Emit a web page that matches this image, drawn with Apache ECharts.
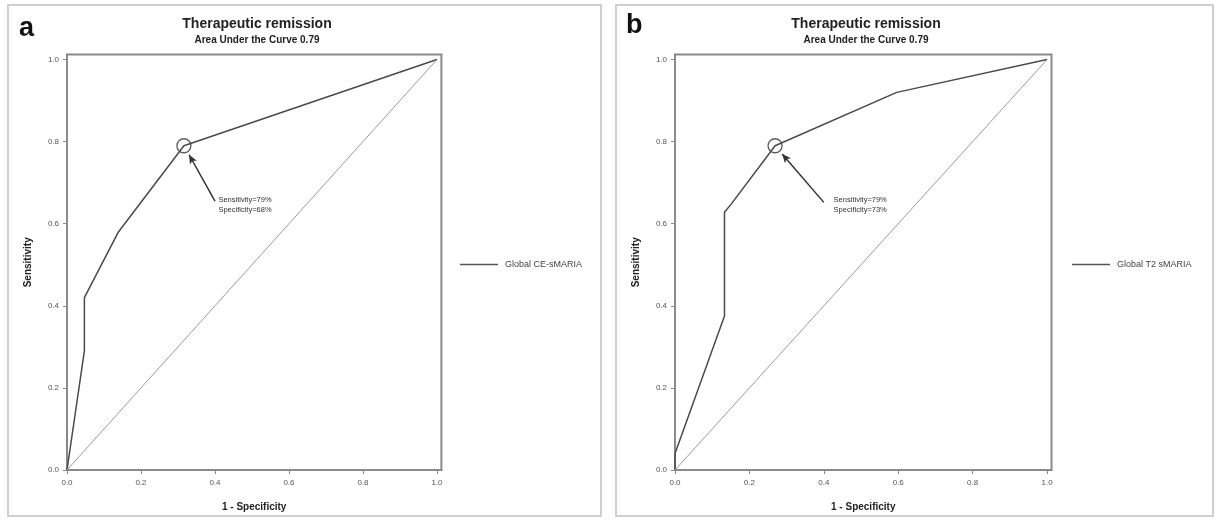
<!DOCTYPE html>
<html><head><meta charset="utf-8">
<script src="https://cdn.jsdelivr.net/npm/echarts@6/dist/echarts.min.js"></script>
<style>html,body{margin:0;padding:0;background:#fff}#c{width:1216px;height:521px}</style>
</head><body><div id="c"></div>
<script>
// ---- data ----
const fprA = [0, 0.047, 0.047, 0.139, 0.316, 1];
const tprA = [0, 0.29, 0.42, 0.58, 0.79, 1];
const fprB = [0, 0, 0.133, 0.133, 0.152, 0.269, 0.596, 1];
const tprB = [0, 0.04, 0.375, 0.628, 0.649, 0.79, 0.92, 1];
const refX = [0, 1];
const refY = [0, 1];
const tickValues = [0, 0.2, 0.4, 0.6, 0.8, 1.0];
const seriesNames = ['Global CE-sMARIA', 'Global T2 sMARIA'];
const panelLabels = ['a', 'b'];
const titleText = 'Therapeutic remission';
const aucTexts = ['Area Under the Curve 0.79', 'Area Under the Curve 0.79'];
const cutoffFpr = [0.316, 0.269];
const cutoffTpr = [0.79, 0.79];
const sensTexts = ['Sensitivity=79%', 'Sensitivity=79%'];
const specTexts = ['Specificity=68%', 'Specificity=73%'];
// annotation placement (data coords)
const arrowTail = [[0.400, 0.655], [0.400, 0.652]];
const arrowHead = [[0.330, 0.768], [0.288, 0.770]];
const textAnchor = [[0.408, 0.645], [0.425, 0.645]];

const chart = echarts.init(document.getElementById('c'), null, {renderer: 'canvas'});
const FONT = 'Liberation Sans, Arial, sans-serif';
const grids = [
  {left: 67, top: 54.6, width: 374.4, height: 415.4},
  {left: 675, top: 54.6, width: 376.5, height: 415.4}
];
const centers = [67 + 370 / 2, 675 + 372 / 2];

function axis(type, gi, name) {
  const isX = type === 'x';
  return {
    type: 'value', gridIndex: gi, min: 0, max: 1.012,
    name: name, nameLocation: 'middle',
    nameGap: isX ? 32 : 34,
    nameTextStyle: {fontFamily: FONT, fontSize: 10, fontWeight: 'bold', color: '#222'},
    splitLine: {show: false},
    axisLine: {show: true, lineStyle: {color: '#8a8a8a', width: 2}},
    axisTick: {show: true, length: 4, customValues: tickValues, lineStyle: {color: '#8a8a8a', width: 1}},
    axisLabel: {customValues: tickValues, margin: isX ? 9 : 8, fontFamily: FONT, fontSize: 8, color: '#555',
      formatter: v => v.toFixed(1)}
  };
}

const fpr = [fprA, fprB], tpr = [tprA, tprB];
const series = [];
for (let i = 0; i < 2; i++) {
  series.push({
    name: seriesNames[i], type: 'line', xAxisIndex: i, yAxisIndex: i,
    data: fpr[i].map((x, k) => [x, tpr[i][k]]),
    showSymbol: false, symbol: 'none', silent: true,
    lineStyle: {color: '#4a4a4a', width: 1.5},
    itemStyle: {color: '#4a4a4a'}
  });
  series.push({
    name: 'ref' + i, type: 'line', xAxisIndex: i, yAxisIndex: i,
    data: refX.map((x, k) => [x, refY[k]]),
    showSymbol: false, symbol: 'none', silent: true,
    lineStyle: {color: '#9a9a9a', width: 1}
  });
  series.push({
    name: 'cut' + i, type: 'scatter', xAxisIndex: i, yAxisIndex: i,
    data: [[cutoffFpr[i], cutoffTpr[i]]],
    symbol: 'circle', symbolSize: 14, silent: true,
    itemStyle: {color: 'rgba(0,0,0,0)', borderColor: '#333', borderWidth: 1.3},
    markLine: {
      silent: true, symbol: ['none', 'arrow'], symbolSize: [6, 9],
      lineStyle: {color: '#333', width: 1.5, type: 'solid'},
      label: {show: false},
      data: [[{coord: arrowTail[i]}, {coord: arrowHead[i]}]]
    },
    markPoint: {
      silent: true, symbol: 'circle', symbolSize: 1,
      itemStyle: {color: 'rgba(0,0,0,0)'},
      label: {show: true, position: 'right', distance: 0, fontFamily: FONT, fontSize: 7.5,
        color: '#333', lineHeight: 10, align: 'left',
        formatter: sensTexts[i] + '\n' + specTexts[i]},
      data: [{coord: textAnchor[i]}]
    }
  });
}

chart.setOption({
  animation: false,
  textStyle: {fontFamily: FONT},
  grid: grids.map(g => Object.assign({show: true, borderColor: '#8a8a8a', borderWidth: 2, backgroundColor: '#fff'}, g)),
  xAxis: [axis('x', 0, '1 - Specificity'), axis('x', 1, '1 - Specificity')],
  yAxis: [axis('y', 0, 'Sensitivity'), axis('y', 1, 'Sensitivity')],
  title: [0, 1].map(i => ({
    text: titleText, subtext: aucTexts[i], left: centers[i], top: 12, textAlign: 'center', itemGap: 4,
    textStyle: {fontFamily: FONT, fontSize: 14, fontWeight: 'bold', color: '#222'},
    subtextStyle: {fontFamily: FONT, fontSize: 10, fontWeight: 'bold', color: '#222'}
  })),
  legend: [0, 1].map(i => ({
    data: [seriesNames[i]], left: i === 0 ? 455 : 1067, top: 255,
    icon: 'rect', itemWidth: 38, itemHeight: 1.3, itemGap: 5,
    selectedMode: false,
    itemStyle: {color: '#555'},
    textStyle: {fontFamily: FONT, fontSize: 9, color: '#444', padding: [0, 0, 0, 2]}
  })),
  graphic: [
    {type: 'rect', shape: {x: 8, y: 5, width: 593, height: 511}, style: {fill: 'none', stroke: '#cfcfcf', lineWidth: 2}, z: -10, silent: true},
    {type: 'rect', shape: {x: 616, y: 5, width: 597, height: 511}, style: {fill: 'none', stroke: '#cfcfcf', lineWidth: 2}, z: -10, silent: true},
    {type: 'text', left: 19, top: 15, style: {text: panelLabels[0], font: 'bold 27px ' + FONT, fill: '#111'}, silent: true},
    {type: 'text', left: 626, top: 12, style: {text: panelLabels[1], font: 'bold 27px ' + FONT, fill: '#111'}, silent: true}
  ],
  series: series
});
</script></body></html>
